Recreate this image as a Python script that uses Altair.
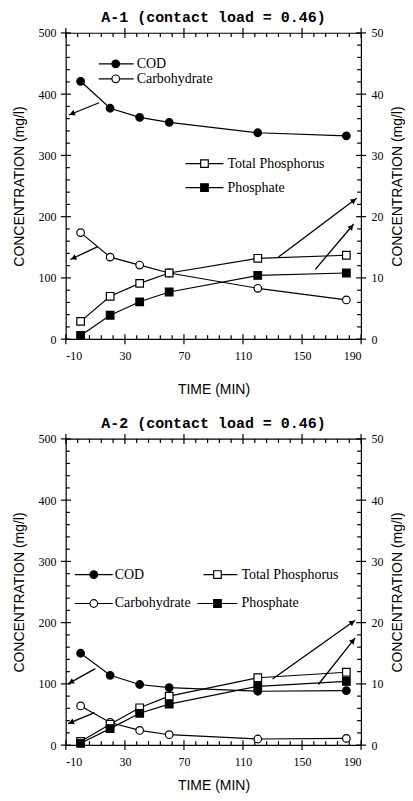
import math
import altair as alt
import pandas as pd

# ---------------- data ----------------
time_min = [0, 20, 40, 60, 120, 180]

a1_cod = [421, 377, 362, 354, 337, 332]
a1_carb = [174, 134, 121, 108, 83, 64]
a1_tp = [2.9, 7.0, 9.1, 10.8, 13.2, 13.7]
a1_phos = [0.6, 3.9, 6.1, 7.7, 10.4, 10.8]

a2_cod = [150, 114, 99, 94, 88, 89]
a2_carb = [64, 37, 24, 17, 10, 11]
a2_tp = [0.6, 3.4, 6.1, 8.0, 11.0, 11.9]
a2_phos = [0.3, 2.7, 5.2, 6.7, 9.6, 10.4]

# arrows: (x start, y start, x end, y end) in minutes / left-axis mg/l
a1_arrows = [(12.5, 386, -8, 366), (11.6, 151, -7, 130),
             (134, 134, 187, 230), (159, 114, 185, 188)]
a2_arrows = [(10, 125, -8.6, 100), (9.5, 53, -8.6, 35),
             (130, 108, 186, 204), (161, 99, 186, 175)]

x_major = [-10, 30, 70, 110, 150, 190]
left_major = [0, 100, 200, 300, 400, 500]
right_major = [0, 10, 20, 30, 40, 50]
x_minor = [v for v in range(-10, 191, 8) if v not in x_major]
left_minor = [v for v in range(0, 501, 20) if v not in left_major]
right_minor = [v for v in range(0, 51, 2) if v not in right_major]

titles = ["A-1 (contact load = 0.46)", "A-2 (contact load = 0.46)"]

# ---------------- layout ----------------
W, H = 296, 307
XMIN, XMAX = -10, 190
LMAX, RMAX = 500, 50
SERIF = "Liberation Serif"
SANS = "Liberation Sans"
SX = W / (XMAX - XMIN)      # px per minute
SYL = H / LMAX              # px per left unit
SYR = H / RMAX              # px per right unit
MAJ, MIN_ = 5, 4            # major tick half-length (crossing) / minor length (inside)

x_scale = alt.Scale(domain=[XMIN, XMAX], nice=False, zero=False)
yl_scale = alt.Scale(domain=[0, LMAX], nice=False)
yr_scale = alt.Scale(domain=[0, RMAX], nice=False)


def segment_layer(rows, yscale, width=1.2):
    df = pd.DataFrame(rows)
    return alt.Chart(df).mark_rule(color="black", strokeWidth=width).encode(
        x=alt.X("x0:Q", scale=x_scale), y=alt.Y("y0:Q", scale=yscale),
        x2="x1:Q", y2="y1:Q")


def left_tick_rows(pid):
    rows = []
    for v in left_major:
        rows.append(dict(x0=XMIN - MAJ / SX, y0=v, x1=XMIN + MAJ / SX, y1=v))
    for v in left_minor:
        rows.append(dict(x0=XMIN, y0=v, x1=XMIN + MIN_ / SX, y1=v))
    for v in x_major:
        rows.append(dict(x0=v, y0=LMAX + MAJ / SYL, x1=v, y1=LMAX - MAJ / SYL))
        rows.append(dict(x0=v, y0=-MAJ / SYL, x1=v, y1=MAJ / SYL))
    for v in x_minor:
        rows.append(dict(x0=v, y0=LMAX, x1=v, y1=LMAX - MIN_ / SYL))
        rows.append(dict(x0=v, y0=0, x1=v, y1=MIN_ / SYL))
    for r in rows:
        r["panel"] = pid + "-L"
    return rows


def right_tick_rows(pid):
    rows = []
    for v in right_major:
        rows.append(dict(x0=XMAX - MAJ / SX, y0=v, x1=XMAX + MAJ / SX, y1=v))
    for v in right_minor:
        rows.append(dict(x0=XMAX - MIN_ / SX, y0=v, x1=XMAX, y1=v))
    for r in rows:
        r["panel"] = pid + "-R"
    return rows


def series(vals, yscale, shape, fill):
    df = pd.DataFrame({"t": time_min, "val": vals})
    base = alt.Chart(df)
    enc = dict(x=alt.X("t:Q", scale=x_scale), y=alt.Y("val:Q", scale=yscale))
    line = base.mark_line(color="black", strokeWidth=1.2).encode(**enc)
    pts = base.mark_point(shape=shape, size=58, filled=True, fill=fill,
                          stroke="black", strokeWidth=1.2, opacity=1).encode(**enc)
    return line, pts


def arrow_layers(arrows):
    rows = []
    for (x0, y0, x1, y1) in arrows:
        dxp = (x1 - x0) * SX
        dyp = -(y1 - y0) * SYL
        L = math.hypot(dxp, dyp)
        ang = math.degrees(math.atan2(dxp, -dyp)) % 360
        rows.append(dict(x0=x0, y0=y0, x1=x1, y1=y1,
                         hx=x1 - 3.5 * dxp / L / SX,
                         hy=y1 + 3.5 * dyp / L / SYL, ang=ang))
    df = pd.DataFrame(rows)
    rule = alt.Chart(df).mark_rule(color="black", strokeWidth=1.3).encode(
        x=alt.X("x0:Q", scale=x_scale), y=alt.Y("y0:Q", scale=yl_scale),
        x2="x1:Q", y2="y1:Q")
    head = alt.Chart(df).mark_point(shape="triangle-up", size=38, filled=True,
                                    color="black", opacity=1).encode(
        x=alt.X("hx:Q", scale=x_scale), y=alt.Y("hy:Q", scale=yl_scale),
        angle=alt.Angle("ang:Q", scale=None))
    return [rule, head]


def legend_item(pid, label, y, lx0, lx1, mx, tx, shape, fill):
    base = alt.Chart(pd.DataFrame({"k": [pid + label]}))
    ln = base.mark_rule(color="black", strokeWidth=1.2).encode(
        x=alt.value(lx0), x2=alt.value(lx1), y=alt.value(y))
    mk = base.mark_point(shape=shape, size=58, filled=True, fill=fill,
                         stroke="black", strokeWidth=1.2, opacity=1).encode(
        x=alt.value(mx), y=alt.value(y))
    tx_ = base.mark_text(align="left", baseline="middle", font=SERIF,
                         fontSize=14, color="black").encode(
        x=alt.value(tx), y=alt.value(y), text=alt.value(label))
    return [ln, mk, tx_]


def panel(pid, title, cod, carb, tp, phos, arrows, legend, x_title_y):
    xaxis = alt.Axis(orient="bottom", values=x_major, labelExpr="'' + datum.value",
                     title="TIME (MIN)", titleY=x_title_y, titleBaseline="middle",
                     labelPadding=11)
    laxis = alt.Axis(orient="left", values=left_major, format="d",
                     title="CONCENTRATION (mg/l)", titleAngle=270, titleX=-46,
                     titleY=H / 2, titleAlign="center", titleBaseline="middle",
                     labelPadding=10)
    raxis = alt.Axis(orient="right", values=right_major, format="d",
                     title="CONCENTRATION (mg/l)", titleAngle=270, titleX=36,
                     titleY=H / 2, titleAlign="center", titleBaseline="middle",
                     labelPadding=10)
    cod_l, cod_p = series(cod, yl_scale, "circle", "black")
    carb_l, carb_p = series(carb, yl_scale, "circle", "white")
    tp_l, tp_p = series(tp, yr_scale, "square", "white")
    ph_l, ph_p = series(phos, yr_scale, "square", "black")
    # explicit axes on the first layer of each side
    cod_l = cod_l.encode(x=alt.X("t:Q", scale=x_scale, axis=xaxis),
                         y=alt.Y("val:Q", scale=yl_scale, axis=laxis))
    tp_l = tp_l.encode(x=alt.X("t:Q", scale=x_scale, axis=xaxis),
                       y=alt.Y("val:Q", scale=yr_scale, axis=raxis))

    left_layers = [
        cod_l, carb_l,
    ] + arrow_layers(arrows) + [
        segment_layer(left_tick_rows(pid), yl_scale),
        cod_p, carb_p,
    ]
    for item in legend:
        left_layers += legend_item(pid, *item)
    right_layers = [
        tp_l, ph_l,
        segment_layer(right_tick_rows(pid), yr_scale),
        tp_p, ph_p,
    ]
    left = alt.layer(*left_layers)
    right = alt.layer(*right_layers)
    return alt.layer(left, right).resolve_scale(y="independent").properties(
        width=W, height=H,
        title=alt.TitleParams(title, font="Liberation Mono", fontSize=15,
                              fontWeight="bold", color="black", offset=2,
                              anchor="middle"))


legend1 = [
    ("COD", 31, 33, 68, 50, 71, "circle", "black"),
    ("Carbohydrate", 46, 33, 68, 50, 71, "circle", "white"),
    ("Total Phosphorus", 131, 120, 158, 139, 162, "square", "white"),
    ("Phosphate", 155, 120, 158, 139, 162, "square", "black"),
]
legend2 = [
    ("COD", 136, 9, 47, 28, 49, "circle", "black"),
    ("Carbohydrate", 165, 9, 47, 28, 49, "circle", "white"),
    ("Total Phosphorus", 136, 138, 172, 152, 176, "square", "white"),
    ("Phosphate", 165, 132, 172, 152, 176, "square", "black"),
]

p1 = panel("A1", titles[0], a1_cod, a1_carb, a1_tp, a1_phos, a1_arrows, legend1, 50)
p2 = panel("A2", titles[1], a2_cod, a2_carb, a2_tp, a2_phos, a2_arrows, legend2, 40)

chart = alt.vconcat(p1, p2, spacing=18).properties(
    padding={"left": 4, "right": 0, "top": 0, "bottom": 0}
).configure_view(stroke="black", strokeWidth=1.2).configure_axis(
    domain=False, ticks=False, grid=False,
    labelFont=SERIF, labelFontSize=12, labelColor="black",
    titleFont=SANS, titleFontSize=14, titleFontWeight="normal", titleColor="black",
)

chart.save("out.html", embed_options={"renderer": "svg", "actions": False})
